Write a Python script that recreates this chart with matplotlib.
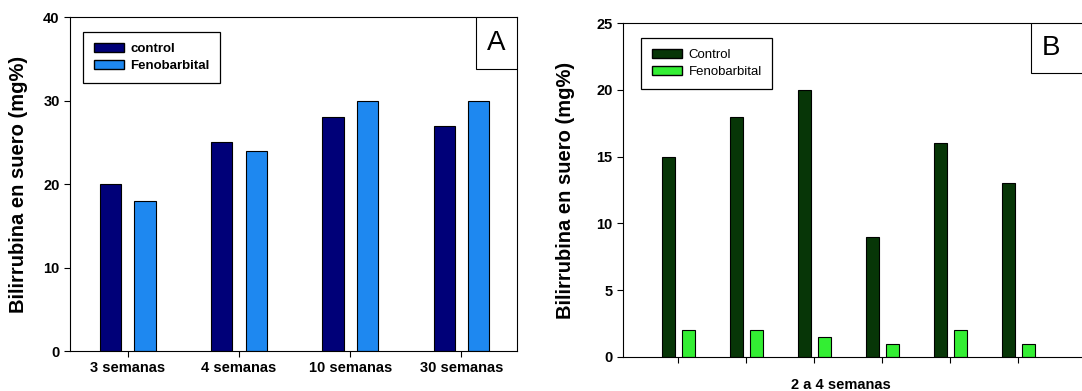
import matplotlib.pyplot as plt
import numpy as np
from matplotlib.patches import Rectangle, Patch

plt.rcParams['font.family'] = ['Liberation Sans', 'DejaVu Sans']

# panel A
grupos_a = ['3 semanas', '4 semanas', '10 semanas', '30 semanas']
control_a = [20, 25, 28, 27]
feno_a = [18, 24, 30, 30]

# panel B
control_b = [15, 18, 20, 9, 16, 13]
feno_b = [2, 2, 1.5, 1, 2, 1]

c_ctrl_a = '#000078'
c_feno_a = '#1e88f0'
c_ctrl_b = '#073607'
c_feno_b = '#33ee33'

fig = plt.figure(figsize=(10.82, 3.91), dpi=100)
axA = fig.add_axes([0.0647, 0.1023, 0.4131, 0.8542])
axB = fig.add_axes([0.5758, 0.087, 0.4408, 0.854])

# ---- A ----
x = np.arange(len(grupos_a))
w = 0.19
axA.bar(x - 0.155, control_a, w, color=c_ctrl_a, edgecolor='black', linewidth=0.8)
axA.bar(x + 0.155, feno_a, w, color=c_feno_a, edgecolor='black', linewidth=0.8)
axA.set_xlim(-0.52, 3.5)
axA.set_ylim(0, 40)
axA.set_yticks([0, 10, 20, 30, 40])
axA.set_xticks(x)
axA.set_xticklabels(grupos_a, fontsize=10.5, fontweight='bold')
for t in axA.get_yticklabels():
    t.set_fontweight('bold')
    t.set_fontsize(10.5)
axA.tick_params(direction='out', length=4, width=0.8)
axA.set_ylabel('Bilirrubina en suero (mg%)', fontsize=14.5, fontweight='bold')
axA.yaxis.set_label_coords(-0.094, 0.5)
handlesA = [Patch(facecolor=c_ctrl_a, edgecolor='black', label='control'),
            Patch(facecolor=c_feno_a, edgecolor='black', label='Fenobarbital')]
legA = axA.legend(handles=handlesA, loc='upper left', bbox_to_anchor=(0.029, 0.955),
                  borderaxespad=0, fancybox=False, edgecolor='black', framealpha=1,
                  handlelength=2.3, handleheight=0.7, handletextpad=0.5,
                  prop={'weight': 'bold', 'size': 9.5},
                  borderpad=0.8, labelspacing=0.4)
legA.get_frame().set_linewidth(0.9)
axA.add_patch(Rectangle((0.908, 0.844), 0.092, 0.156, transform=axA.transAxes,
                        facecolor='white', edgecolor='black', linewidth=0.8, zorder=5))
axA.text(0.954, 0.922, 'A', transform=axA.transAxes, fontsize=20,
         ha='center', va='center', zorder=6)

# ---- B ----
xb = np.arange(len(control_b))
axB.bar(xb - 0.147, control_b, w, color=c_ctrl_b, edgecolor='black', linewidth=0.8)
axB.bar(xb + 0.147, feno_b, w, color=c_feno_b, edgecolor='black', linewidth=0.8)
axB.set_xlim(-0.81, 6.2)
axB.set_ylim(0, 25)
axB.set_yticks([0, 5, 10, 15, 20, 25])
axB.set_xticks(xb)
axB.set_xticklabels([])
for t in axB.get_yticklabels():
    t.set_fontweight('bold')
    t.set_fontsize(10.5)
axB.tick_params(direction='out', length=4, width=0.8)
fig.text(0.777, 0.016, '2 a 4 semanas', fontsize=10.5, fontweight='bold',
         ha='center', va='center')
axB.set_ylabel('Bilirrubina en suero (mg%)', fontsize=14.5, fontweight='bold')
axB.yaxis.set_label_coords(-0.10, 0.5)
handlesB = [Patch(facecolor=c_ctrl_b, edgecolor='black', label='Control'),
            Patch(facecolor=c_feno_b, edgecolor='black', label='Fenobarbital')]
legB = axB.legend(handles=handlesB, loc='upper left', bbox_to_anchor=(0.038, 0.955),
                  borderaxespad=0, fancybox=False, edgecolor='black', framealpha=1,
                  handlelength=2.3, handleheight=0.7, handletextpad=0.5,
                  prop={'size': 9.5},
                  borderpad=0.8, labelspacing=0.4)
legB.get_frame().set_linewidth(0.9)
axB.add_patch(Rectangle((0.855, 0.85), 0.2, 0.15, transform=axB.transAxes,
                        facecolor='white', edgecolor='black', linewidth=0.8, zorder=5))
axB.text(0.897, 0.925, 'B', transform=axB.transAxes, fontsize=20,
         ha='center', va='center', zorder=6)

fig.savefig('out.png', dpi=100)
